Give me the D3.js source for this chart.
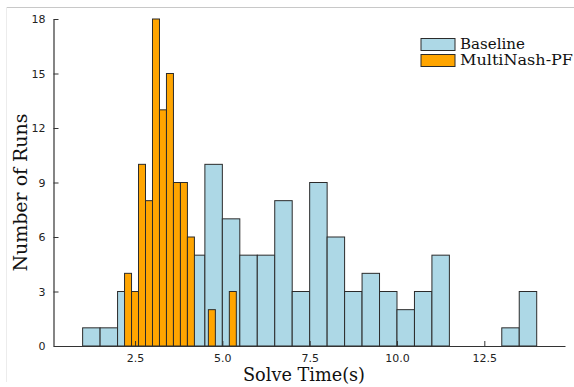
<!DOCTYPE html>
<html>
<head>
<meta charset="utf-8">
<script src="https://cdn.jsdelivr.net/npm/d3@7"></script>
<style>
  body { margin: 0; background: #fff; }
  svg { display: block; }
</style>
</head>
<body>
<div id="chart"></div>
<script>
// histogram bins
var baselineStart = 1.0, baselineWidth = 0.5;
var baselineCounts = [1, 1, 3, 3, 5, 5, 5, 10, 7, 5, 5, 8, 3, 9, 6, 3, 4, 3, 2, 3, 5, 0, 0, 0, 1, 3];
var pfStart = 2.2, pfWidth = 0.2;
var pfCounts = [4, 3, 10, 8, 18, 13, 15, 9, 9, 6, 0, 0, 2, 0, 0, 3];
var xTicks = [2.5, 5.0, 7.5, 10.0, 12.5];
var yTicks = [0, 3, 6, 9, 12, 15, 18];
var seriesNames = ["Baseline", "MultiNash-PF"];
var seriesColors = ["#add8e6", "#ffa500"];

var W = 574, H = 387;
var plotLeft = 53.5, plotRight = 565, plotTop = 19, plotBottom = 346;

var svg = d3.select("#chart").append("svg").attr("width", W).attr("height", H);

// faint outer frame
svg.append("line").attr("x1", 6).attr("x2", W).attr("y1", 7.5).attr("y2", 7.5)
    .attr("stroke", "#c8c8c8").attr("stroke-width", 1.2);
svg.append("line").attr("x1", 6.5).attr("x2", 6.5).attr("y1", 7).attr("y2", 382)
    .attr("stroke", "#ececec").attr("stroke-width", 1);

var x = d3.scaleLinear().domain([0.166, 14.81]).range([plotLeft, plotRight]);
var y = d3.scaleLinear().domain([0, 18]).range([plotBottom, plotTop]);

function bins(start, width, counts) {
    return counts.map(function (c, i) {
        return { x0: start + i * width, x1: start + (i + 1) * width, n: c };
    }).filter(function (d) { return d.n > 0; });
}

var series = [bins(baselineStart, baselineWidth, baselineCounts), bins(pfStart, pfWidth, pfCounts)];

series.forEach(function (data, k) {
    svg.append("g").selectAll("rect").data(data).enter().append("rect")
        .attr("x", function (d) { return x(d.x0); })
        .attr("width", function (d) { return x(d.x1) - x(d.x0); })
        .attr("y", function (d) { return y(d.n); })
        .attr("height", function (d) { return y(0) - y(d.n); })
        .attr("fill", seriesColors[k])
        .attr("stroke", "#2b2b2b")
        .attr("stroke-width", 1);
});

// axes, ticks pointing inward
var xAxis = svg.append("g").attr("transform", "translate(0," + plotBottom + ")")
    .call(d3.axisBottom(x).tickValues(xTicks).tickFormat(d3.format(".1f")).tickSizeInner(-5).tickSizeOuter(0).tickPadding(8));
var yAxis = svg.append("g").attr("transform", "translate(" + plotLeft + ",0)")
    .call(d3.axisLeft(y).tickValues(yTicks).tickSizeInner(-5).tickSizeOuter(0).tickPadding(8));

[xAxis, yAxis].forEach(function (g) {
    g.select(".domain").attr("stroke", "#333").attr("stroke-width", 1.2);
    g.selectAll(".tick line").attr("stroke", "#333");
    g.selectAll(".tick text").attr("fill", "#222")
        .style("font-family", "DejaVu Sans, sans-serif").style("font-size", "11px");
});

var serif = "'DejaVu Serif', 'Liberation Serif', serif";

svg.append("text").attr("x", 304).attr("y", 381)
    .attr("text-anchor", "middle")
    .attr("textLength", 122).attr("lengthAdjust", "spacingAndGlyphs")
    .style("font-family", serif).style("font-size", "18px").attr("fill", "#111")
    .text("Solve Time(s)");

svg.append("text").attr("transform", "translate(27,192.5) rotate(-90)")
    .attr("text-anchor", "middle")
    .attr("textLength", 158).attr("lengthAdjust", "spacingAndGlyphs")
    .style("font-family", serif).style("font-size", "19px").attr("fill", "#111")
    .text("Number of Runs");

// legend
var legend = svg.append("g");
seriesNames.forEach(function (name, i) {
    var ly = 38.5 + i * 16;
    legend.append("rect").attr("x", 421).attr("y", ly).attr("width", 34).attr("height", 12)
        .attr("fill", seriesColors[i]).attr("stroke", "#2b2b2b").attr("stroke-width", 1);
    legend.append("text").attr("x", 460).attr("y", ly + 10.5)
        .attr("textLength", i == 0 ? 65 : 113).attr("lengthAdjust", "spacingAndGlyphs")
        .style("font-family", serif).style("font-size", "15.5px").attr("fill", "#111")
        .text(name);
});
</script>
</body>
</html>
